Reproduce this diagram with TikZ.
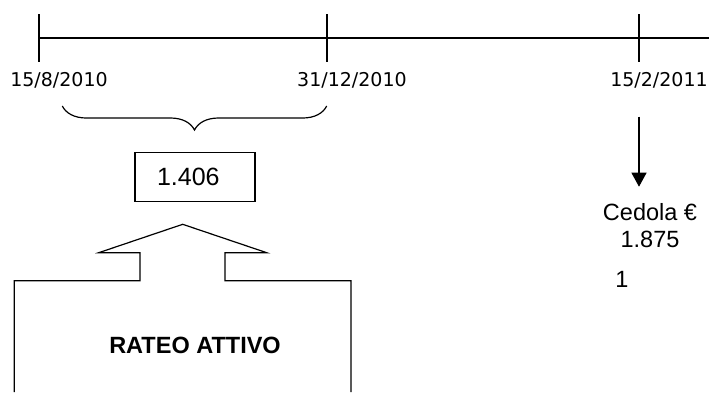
\documentclass[tikz,border=0pt]{standalone}
\usepackage{fontspec}
\setmainfont{Liberation Sans}
\newfontfamily\datefont{DejaVu Sans}
\usetikzlibrary{arrows.meta, positioning, decorations.pathreplacing}

\begin{document}
\begin{tikzpicture}[x=1pt, y=-1pt,
    every node/.style={inner sep=0pt},
    line/.style={line width=1.2pt},
    date/.style={font=\datefont\fontsize{19}{19}\selectfont},
    val/.style={font=\fontsize{23.5}{27}\selectfont, align=center},
    valbox/.style={draw, line width=1.2pt, text width=76pt, inner xsep=22pt,
                   align=left, minimum height=48.6pt, font=\fontsize{25}{25}\selectfont},
    arr/.style={-{Triangle[length=14pt, width=15pt]}, line width=1.2pt}
]
    \useasboundingbox (0,0) rectangle (709,392);

    % timeline with ticks
    \coordinate (start) at (39,38);
    \coordinate (end) at (709,38);
    \draw[line] (start) -- (end);
    \foreach \x/\n in {39/a, 327/b, 639/c}
        \draw[line] (\x,14) coordinate (top\n) -- (\x,62) coordinate (bot\n);

    \node[date] (da) at (59,80.5) {15/8/2010};
    \node[date] (db) at (352,80.5) {31/12/2010};
    \node[date] (dc) at (659,80.5) {15/2/2011};

    % accrual period
    \coordinate (bl) at (62.3,106);
    \coordinate (br) at (326.7,106);
    \draw[line, decorate, decoration={brace, mirror, amplitude=24pt}] (bl) -- (br);

    \node[valbox] (rateo) at (195,177) {1.406};

    % block arrow
    \coordinate (tip) at (182.7,224.3);
    \draw[line] (14.3,392) -- (14.3,280.7) -- (140,280.7) -- (140,252.7)
        -- (98.7,252.7) -- (tip) -- (266.7,252.7) -- (225,252.7)
        -- (225,280.7) -- (351,280.7) -- (351,392);
    \node[font=\bfseries\fontsize{23.5}{23.5}\selectfont] (lbl) at (195,345) {RATEO ATTIVO};

    % coupon
    \coordinate (cfrom) at (639,116.7);
    \coordinate (cto) at (639,186.7);
    \draw[arr] (cfrom) -- (cto);
    \node[val] (ced) at (650,226) {Cedola €\\1.875};
    \node[val] (one) at (622,279) {1};
\end{tikzpicture}
\end{document}
